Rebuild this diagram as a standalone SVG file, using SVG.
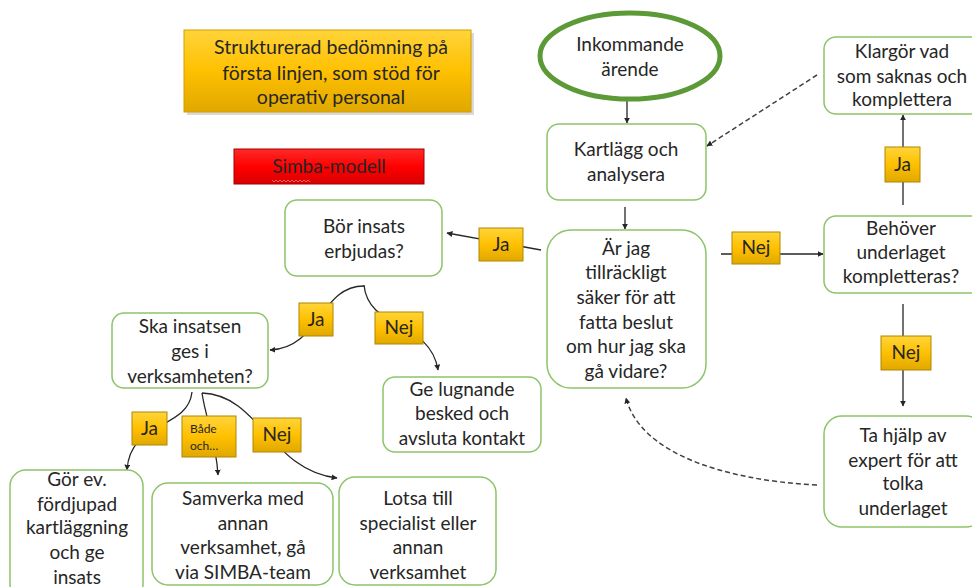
<svg xmlns="http://www.w3.org/2000/svg" width="972" height="587" viewBox="0 0 972 587">
<defs>
<style>
.t{font-family:Lato,"Open Sans","Liberation Sans",sans-serif;font-size:19px;fill:#262626;text-anchor:middle}
.tt{font-family:Lato,"Open Sans","Liberation Sans",sans-serif;font-size:19.5px;fill:#262626;text-anchor:middle}
.ts{font-family:Lato,"Open Sans","Liberation Sans",sans-serif;font-size:12px;fill:#262626}
.box{fill:#fff;stroke:#8CC46A;stroke-width:1.5}
.lbl{fill:url(#gy);stroke:#B08600;stroke-width:1}
.ln{fill:none;stroke:#262626;stroke-width:1.3}
.dash{fill:none;stroke:#404040;stroke-width:1.5;stroke-dasharray:5 3}
</style>
<linearGradient id="gy" x1="0" y1="0" x2="0" y2="1">
<stop offset="0" stop-color="#FFD43A"/>
<stop offset="0.5" stop-color="#FFC000"/>
<stop offset="1" stop-color="#E0A800"/>
</linearGradient>
<linearGradient id="gr" x1="0" y1="0" x2="0" y2="1">
<stop offset="0" stop-color="#FF2A2A"/>
<stop offset="0.5" stop-color="#FF0000"/>
<stop offset="1" stop-color="#D80000"/>
</linearGradient>
<marker id="ar" viewBox="0 0 10 10" refX="9" refY="5" markerWidth="6" markerHeight="6" orient="auto-start-reverse" markerUnits="userSpaceOnUse">
<path d="M0,0 L10,5 L0,10 z" fill="#262626"/>
</marker>
</defs>
<rect width="972" height="587" fill="#fff"/>

<g id="connectors">
<line class="ln" x1="627" y1="100" x2="627" y2="123" marker-end="url(#ar)"/>
<line class="ln" x1="625" y1="207" x2="625" y2="229" marker-end="url(#ar)"/>
<line class="ln" x1="541" y1="250" x2="447" y2="233" marker-end="url(#ar)"/>
<line class="ln" x1="721" y1="254" x2="823" y2="254" marker-end="url(#ar)"/>
<line class="ln" x1="903" y1="205" x2="903" y2="115" marker-end="url(#ar)"/>
<line class="ln" x1="903" y1="304" x2="903" y2="406" marker-end="url(#ar)"/>
<line class="dash" x1="817" y1="75" x2="707" y2="146" marker-end="url(#ar)"/>
<path class="dash" d="M817,485 C720,480 640,452 626,398" marker-end="url(#ar)"/>
<path class="ln" d="M364,286 C320,286 320,348 270,350" marker-end="url(#ar)"/>
<path class="ln" d="M364,285 C368,330 430,320 438,370" marker-end="url(#ar)"/>
<path class="ln" d="M192,392 C188,430 130,420 127,470" marker-end="url(#ar)"/>
<path class="ln" d="M202,393 C206,420 216,440 218,475" marker-end="url(#ar)"/>
<path class="ln" d="M202,393 C260,395 270,470 337,478" marker-end="url(#ar)"/>
</g>

<g id="title">
<rect x="187" y="33" width="287" height="82" fill="#BFBFBF" opacity="0.6"/>
<rect x="184" y="30" width="287" height="82" fill="url(#gy)" stroke="#D0A000" stroke-width="1"/>
<text class="tt" x="331" y="54">Strukturerad bedömning på</text>
<text class="tt" x="331" y="80">första linjen, som stöd för</text>
<text class="tt" x="331" y="104">operativ personal</text>
</g>

<g id="simba">
<rect x="234" y="149" width="190" height="35" fill="url(#gr)" stroke="#A00000" stroke-width="1"/>
<text class="t" x="329" y="173">Simba-modell</text>
<path d="M272,180 l2,2 l2,-2 l2,2 l2,-2 l2,2 l2,-2 l2,2 l2,-2 l2,2 l2,-2 l2,2 l2,-2 l2,2 l2,-2 l2,2 l2,-2 l2,2 l2,-2 l2,2" fill="none" stroke="#F08080" stroke-width="0.8"/>
</g>

<g id="inkommande">
<ellipse cx="630" cy="56" rx="90" ry="43" fill="#fff" stroke="#5B9A36" stroke-width="5"/>
<text class="t" x="630" y="51">Inkommande</text>
<text class="t" x="630" y="76">ärende</text>
</g>

<g id="kartlagg">
<rect class="box" x="547" y="124" width="159" height="76" rx="12"/>
<text class="t" x="626" y="156">Kartlägg och</text>
<text class="t" x="626" y="181">analysera</text>
</g>

<g id="arjag">
<rect class="box" x="547" y="230" width="159" height="158" rx="24"/>
<text class="t" x="626" y="255">Är jag</text>
<text class="t" x="626" y="279">tillräckligt</text>
<text class="t" x="626" y="304">säker för att</text>
<text class="t" x="626" y="329">fatta beslut</text>
<text class="t" x="626" y="353">om hur jag ska</text>
<text class="t" x="626" y="378">gå vidare?</text>
</g>

<g id="klargor">
<rect class="box" x="824" y="37" width="160" height="77" rx="12"/>
<text class="t" x="902" y="58">Klargör vad</text>
<text class="t" x="902" y="83">som saknas och</text>
<text class="t" x="902" y="106">komplettera</text>
</g>

<g id="behover">
<rect class="box" x="824" y="216" width="160" height="77" rx="12"/>
<text class="t" x="901" y="235">Behöver</text>
<text class="t" x="901" y="259">underlaget</text>
<text class="t" x="901" y="283">kompletteras?</text>
</g>

<g id="tahjalp">
<rect class="box" x="824" y="416" width="160" height="111" rx="18"/>
<text class="t" x="903" y="442">Ta hjälp av</text>
<text class="t" x="903" y="467">expert för att</text>
<text class="t" x="903" y="490">tolka</text>
<text class="t" x="903" y="515">underlaget</text>
</g>

<g id="bor">
<rect class="box" x="285" y="200" width="157" height="76" rx="12"/>
<text class="t" x="364" y="233">Bör insats</text>
<text class="t" x="364" y="258">erbjudas?</text>
</g>

<g id="ska">
<rect class="box" x="112" y="313" width="156" height="75" rx="12"/>
<text class="t" x="190" y="333">Ska insatsen</text>
<text class="t" x="190" y="358">ges i</text>
<text class="t" x="190" y="383">verksamheten?</text>
</g>

<g id="lugnande">
<rect class="box" x="383" y="377" width="158" height="75" rx="12"/>
<text class="t" x="462" y="396">Ge lugnande</text>
<text class="t" x="462" y="420">besked och</text>
<text class="t" x="462" y="445">avsluta kontakt</text>
</g>

<g id="gorev">
<rect class="box" x="10" y="470" width="133" height="130" rx="16"/>
<text class="t" x="77" y="486">Gör ev.</text>
<text class="t" x="77" y="511">fördjupad</text>
<text class="t" x="77" y="534">kartläggning</text>
<text class="t" x="77" y="559">och ge</text>
<text class="t" x="77" y="584">insats</text>
</g>

<g id="samverka">
<rect class="box" x="152" y="483" width="181" height="102" rx="16"/>
<text class="t" x="243" y="505">Samverka med</text>
<text class="t" x="243" y="530">annan</text>
<text class="t" x="243" y="554">verksamhet, gå</text>
<text class="t" x="243" y="579">via SIMBA-team</text>
</g>

<g id="lotsa">
<rect class="box" x="339" y="477" width="157" height="108" rx="16"/>
<text class="t" x="418" y="505">Lotsa till</text>
<text class="t" x="418" y="530">specialist eller</text>
<text class="t" x="418" y="554">annan</text>
<text class="t" x="418" y="579">verksamhet</text>
</g>

<g id="labels">
<g id="lbl-ja1"><rect class="lbl" x="479" y="228" width="44" height="33"/><text class="t" x="501" y="251">Ja</text></g>
<g id="lbl-nej1"><rect class="lbl" x="732" y="232" width="48" height="32"/><text class="t" x="756" y="254">Nej</text></g>
<g id="lbl-ja2"><rect class="lbl" x="885" y="147" width="35" height="35"/><text class="t" x="902.500" y="171">Ja</text></g>
<g id="lbl-nej2"><rect class="lbl" x="881" y="336" width="50" height="34"/><text class="t" x="906" y="359">Nej</text></g>
<g id="lbl-ja3"><rect class="lbl" x="299" y="303" width="34" height="33"/><text class="t" x="316" y="326">Ja</text></g>
<g id="lbl-nej3"><rect class="lbl" x="375" y="312" width="48" height="32"/><text class="t" x="399" y="334">Nej</text></g>
<g id="lbl-ja4"><rect class="lbl" x="132" y="412" width="35" height="33"/><text class="t" x="149.500" y="435">Ja</text></g>
<g id="lbl-bade"><rect class="lbl" x="182" y="416" width="54" height="41"/><text class="ts" x="190" y="433">Både</text><text class="ts" x="190" y="450">och…</text></g>
<g id="lbl-nej4"><rect class="lbl" x="253" y="418" width="48" height="34"/><text class="t" x="277" y="441">Nej</text></g>
</g>
</svg>
